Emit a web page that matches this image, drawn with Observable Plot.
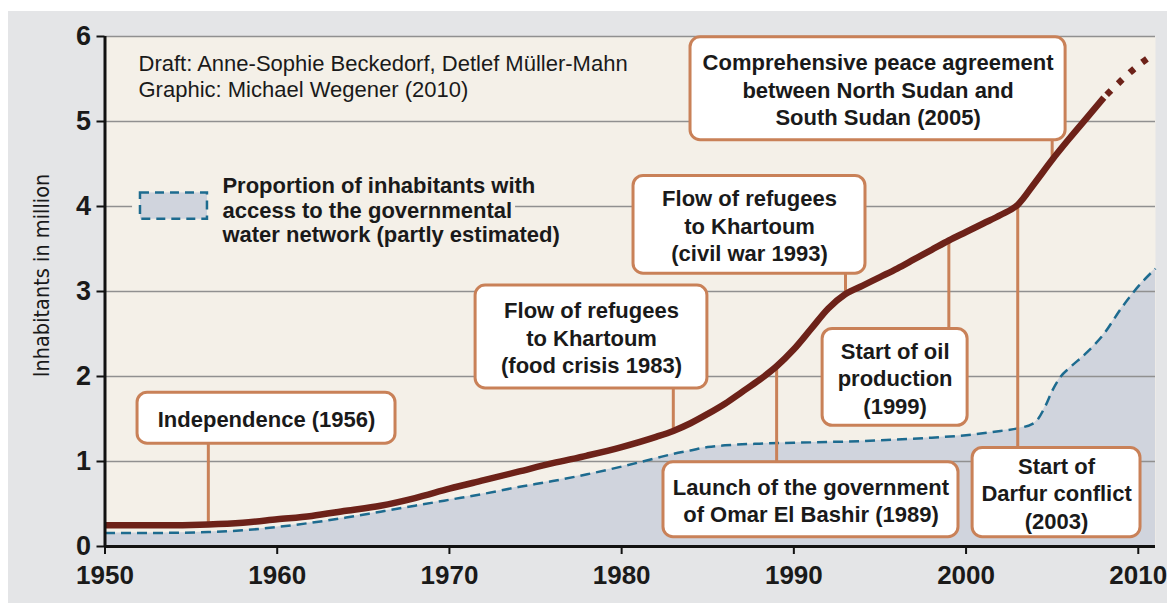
<!DOCTYPE html>
<html><head><meta charset="utf-8">
<script src="https://cdn.jsdelivr.net/npm/d3@7"></script>
<script src="https://cdn.jsdelivr.net/npm/@observablehq/plot@0.6"></script>
<style>
html,body{margin:0;padding:0;background:#fff;}
#chart{position:absolute;left:8px;top:11px;}
</style></head><body><div id="chart"></div>
<script>
// ---- data ----
const popYears = [1950,1953,1956,1958,1960,1962,1964,1966,1968,1970,1972,1974,1976,1978,1980,1982,1983,1984,1985,1986,1987,1988,1989,1990,1991,1992,1993,1994,1995,1996,1997,1998,1999,2000,2001,2002,2003,2004,2005,2006,2007,2008];
const popValues = [0.25,0.25,0.26,0.28,0.32,0.36,0.42,0.48,0.57,0.68,0.78,0.88,0.98,1.07,1.17,1.29,1.36,1.45,1.56,1.68,1.82,1.96,2.12,2.32,2.56,2.8,2.97,3.07,3.17,3.27,3.38,3.49,3.6,3.7,3.8,3.9,4.02,4.28,4.55,4.8,5.04,5.28];
const projYears = [2008,2009,2010,2010.6];
const projValues = [5.28,5.48,5.66,5.75];
const waterYears = [1950,1953,1956,1958,1960,1962,1964,1966,1968,1970,1972,1974,1976,1978,1980,1982,1983,1984,1985,1986,1988,1990,1992,1994,1996,1998,2000,2002,2003,2004,2004.6,2005,2005.5,2006,2007,2008,2009,2010,2011];
const waterValues = [0.16,0.16,0.17,0.19,0.23,0.28,0.34,0.41,0.48,0.55,0.62,0.7,0.77,0.85,0.94,1.04,1.09,1.13,1.17,1.19,1.21,1.22,1.23,1.24,1.26,1.28,1.31,1.36,1.39,1.46,1.65,1.83,2.0,2.1,2.28,2.5,2.8,3.06,3.27];
const eventYears = [1956,1983,1993,2005,1999,1989,2003];
const eventLabels = [
  "Independence (1956)",
  "Flow of refugees\nto Khartoum\n(food crisis 1983)",
  "Flow of refugees\nto Khartoum\n(civil war 1993)",
  "Comprehensive peace agreement\nbetween North Sudan and\nSouth Sudan (2005)",
  "Start of oil\nproduction\n(1999)",
  "Launch of the government\nof Omar El Bashir (1989)",
  "Start of\nDarfur conflict\n(2003)"
];
const yTicks = [0,1,2,3,4,5,6];
const xTicks = [1950,1960,1970,1980,1990,2000,2010];
const yLabel = "Inhabitants in million";
const legendLabel = "Proportion of inhabitants with\naccess to the governmental\nwater network (partly estimated)";
const credits = "Draft: Anne-Sophie Beckedorf, Detlef Müller-Mahn\nGraphic: Michael Wegener (2010)";

// ---- annotation layout (data units) ----
const boxLeft   = [1951.89,1971.52,1980.69,1984.0,1991.67,1982.43,2000.38];
const boxRight  = [1966.87,1984.98,1994.16,2005.78,2000.09,1999.56,2010.13];
const boxTop    = [1.81,3.07,4.36,5.99,2.56,0.99,1.16];
const boxBottom = [1.21,1.86,3.21,4.78,1.42,0.11,0.11];

// ---- build tables ----
const pop = popYears.map((y,i)=>({year:y, value:popValues[i]}));
const proj = projYears.map((y,i)=>({year:y, value:projValues[i]}));
const water = waterYears.map((y,i)=>({year:y, value:waterValues[i]}));
const popAt = y => popValues[popYears.indexOf(y)];
const events = eventYears.map((y,i)=>{
  const v = popAt(y);
  const above = boxBottom[i] > v;
  return {year:y, label:eventLabels[i], v, edge: above ? boxBottom[i] : boxTop[i],
    x1:boxLeft[i], x2:boxRight[i], top:boxTop[i], bottom:boxBottom[i]};
});

const FONT = '"Liberation Sans", Arial, Helvetica, sans-serif';
const NARROW = '"DejaVu Sans Condensed", "Liberation Sans", sans-serif';
const ink = "#1a1a1a";
const brown = "#6d2219";
const blue = "#1d6b8f";
const orange = "#c98158";
const beige = "#f4f0e8";
const areaFill = "#d0d4dd";

const chart = Plot.plot({
  width: 1159, height: 592,
  marginLeft: 96.5, marginRight: 12, marginTop: 25, marginBottom: 57,
  x: {domain: [1950, 2011]},
  y: {domain: [0, 6]},
  style: {background: "#e4e5e7", fontFamily: FONT, color: ink, overflow: "visible"},
  marks: [
    Plot.frame({fill: beige, stroke: "none"}),
    Plot.areaY(water, {x: "year", y: "value", fill: areaFill, curve: "monotone-x"}),
    Plot.ruleY(yTicks.filter(d => d > 0), {stroke: "#909090", strokeWidth: 1.3}),
    Plot.lineY(water, {x: "year", y: "value", stroke: blue, strokeWidth: 2.5, strokeDasharray: "10,6", strokeLinecap: "butt", curve: "monotone-x"}),
    // legend
    Plot.rect([legendLabel], {x1: 1951.6, x2: 1973.84, y1: 3.72, y2: 4.3, fill: beige}),
    Plot.rect([legendLabel], {x1: 1952.06, x2: 1955.95, y1: 3.85, y2: 4.16, fill: areaFill, stroke: blue, strokeWidth: 2.5, strokeDasharray: "9,6"}),
    Plot.text([legendLabel], {x: 1956.82, y: 3.96, text: d => d, textAnchor: "start", lineHeight: 1.12, fontSize: 22, fontWeight: "bold", fill: ink}),
    // credits
    Plot.text([credits], {frameAnchor: "top-left", dx: 33.5, dy: 39, text: d => d, textAnchor: "start", lineAnchor: "middle", lineHeight: 1.2, fontSize: 22, fill: ink}),
    // connectors
    Plot.ruleX(events, {x: "year", y1: "v", y2: "edge", stroke: orange, strokeWidth: 3}),
    // population
    Plot.lineY(pop, {x: "year", y: "value", stroke: brown, strokeWidth: 6.5, strokeLinecap: "butt", curve: "monotone-x"}),
    Plot.lineY(proj, {x: "year", y: "value", stroke: brown, strokeWidth: 6.5, strokeDasharray: "0,4,6,6", strokeLinecap: "butt", curve: "monotone-x"}),
    // boxes
    Plot.rect(events, {x1: "x1", x2: "x2", y1: "bottom", y2: "top", fill: "white", stroke: orange, strokeWidth: 3, rx: 10}),
    Plot.text(events, {x: d => (d.x1 + d.x2) / 2, y: d => (d.top + d.bottom) / 2, text: "label", lineHeight: 1.25, fontSize: 22, fontWeight: "bold", fill: ink}),
    // axes
    Plot.axisY({ticks: yTicks, tickFormat: d => String(d), tickSize: 8, tickPadding: 6, fontSize: 27, fontWeight: "bold", label: null, stroke: "#111", strokeWidth: 2}),
    Plot.axisX({ticks: xTicks, tickFormat: d => String(d), tickSize: 8, tickPadding: 11, fontSize: 26, fontWeight: "bold", label: null, stroke: "#111", strokeWidth: 2}),
    Plot.ruleX([1950], {stroke: "#111", strokeWidth: 3}),
    Plot.ruleY([0], {stroke: "#111", strokeWidth: 3}),
    Plot.text([yLabel], {frameAnchor: "left", dx: -62.5, dy: -16, rotate: -90, textAnchor: "middle", text: d => d, fontSize: 21.5, fontFamily: NARROW, fill: ink})
  ]
});
document.getElementById("chart").appendChild(chart);
</script>
</body></html>
